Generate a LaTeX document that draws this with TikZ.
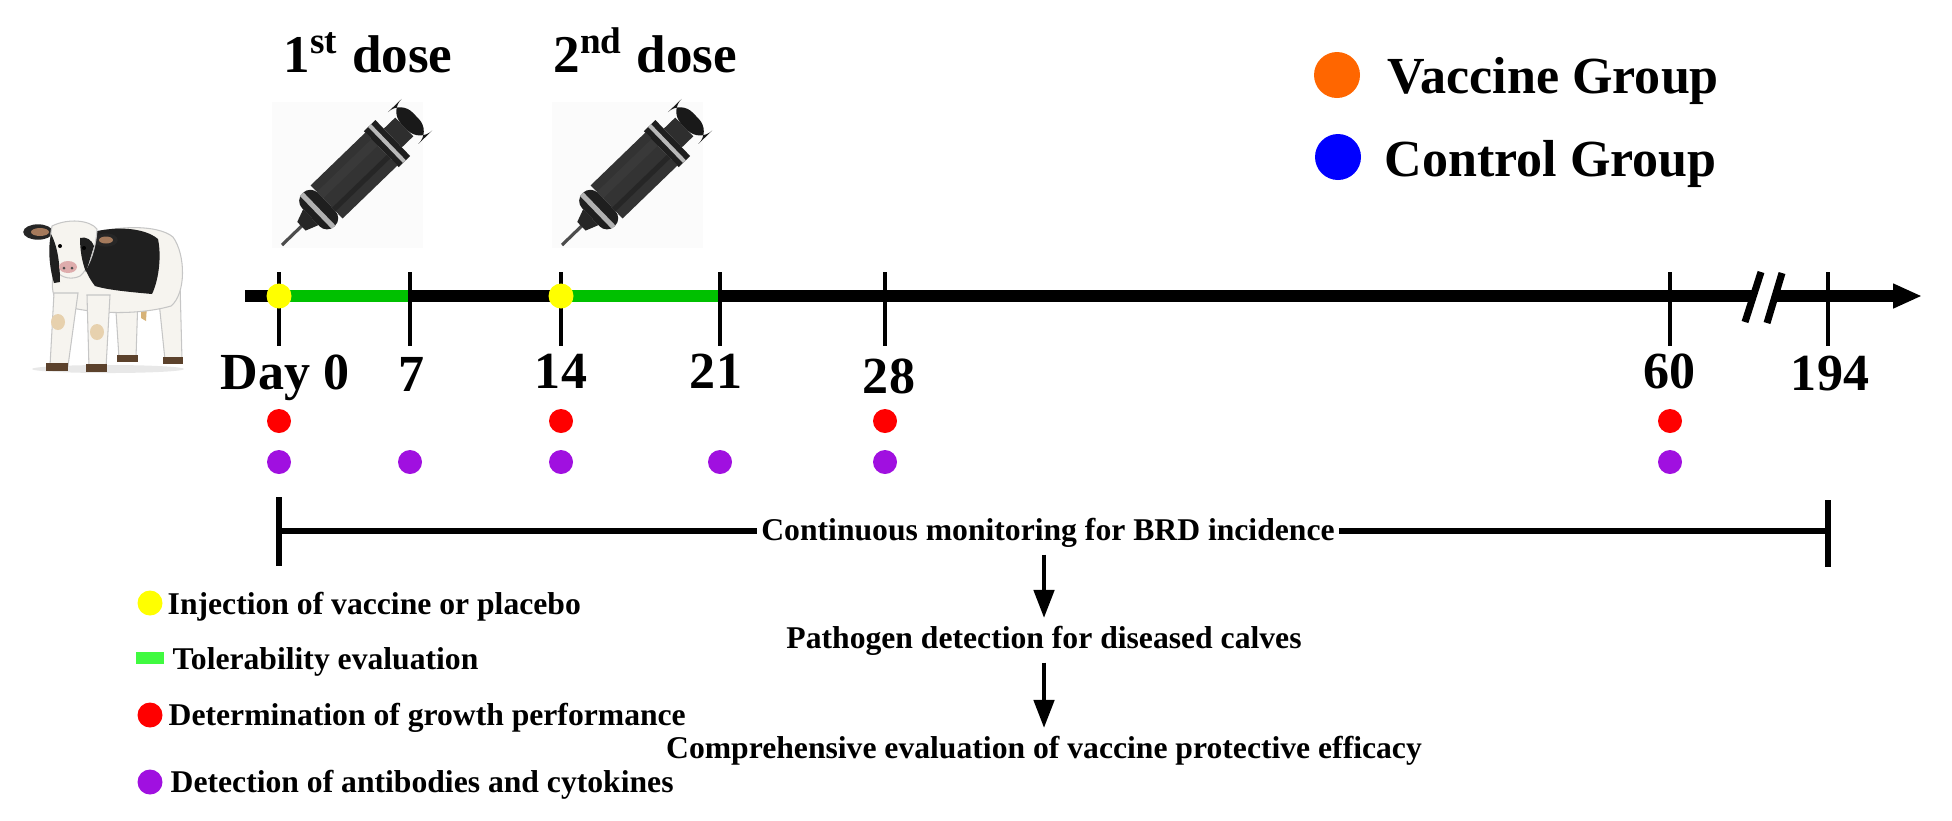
\documentclass[tikz,border=0pt]{standalone}
\usepackage{fontspec}
\setmainfont{Liberation Serif}
\usepackage{xcolor}
\usetikzlibrary{arrows.meta}

\definecolor{injyellow}{RGB}{255,255,0}
\definecolor{tolgreen}{RGB}{0,192,0}
\definecolor{legreen}{RGB}{64,250,64}
\definecolor{growred}{RGB}{255,0,0}
\definecolor{abpurple}{RGB}{160,16,224}
\definecolor{vacorange}{RGB}{255,102,0}
\definecolor{ctrlblue}{RGB}{0,0,255}
\definecolor{cowwhite}{RGB}{246,244,239}
\definecolor{cowtan}{RGB}{214,178,120}
\definecolor{cowear}{RGB}{165,122,92}
\definecolor{cownose}{RGB}{222,172,172}
\definecolor{hoof}{RGB}{92,66,44}

\begin{document}
\begin{tikzpicture}[x=0.01cm, y=-0.01cm,
    axisline/.style={line width=3.4pt},
    daytick/.style={line width=1.3pt},
    daylbl/.style={anchor=base, inner sep=0pt, font=\fontsize{14.8}{17}\selectfont\bfseries},
    dosetxt/.style={anchor=base west, inner sep=0pt, font=\fontsize{15.1}{18}\selectfont\bfseries},
    grptxt/.style={anchor=base west, inner sep=0pt, font=\fontsize{14.8}{17}\selectfont\bfseries},
    legtxt/.style={anchor=base west, inner sep=0pt, font=\fontsize{9}{11}\selectfont\bfseries},
    flowtxt/.style={anchor=base, inner ysep=2pt, inner xsep=1pt, font=\fontsize{9}{11}\selectfont\bfseries},
    monline/.style={line width=1.5pt},
    flowarr/.style={line width=1.3pt, -{Triangle[length=2.8mm, width=2mm]}},
    cowpart/.style={fill=cowwhite, draw=gray!45, line width=0.3pt}]

  \useasboundingbox (0,0) rectangle (1952,820);

  % calf
  \fill[gray!18] (108,369) ellipse (76 and 4);
  \filldraw[cowpart] (157,282) -- (180,282) -- (182,360) -- (165,360) -- cycle;
  \filldraw[cowpart] (115,296) -- (138,296) -- (136,358) -- (119,358) -- cycle;
  \fill[hoof] (163,357) rectangle (183,364);
  \fill[hoof] (117,355) rectangle (138,362);
  \fill[cowtan] (141,290) -- (148,290) -- (146,321) -- (141,318) -- cycle;
  \filldraw[cowpart] (74,240) .. controls (110,224) and (158,224) .. (173,237)
    .. controls (186,255) and (186,294) .. (171,306)
    .. controls (140,315) and (90,315) .. (58,304)
    .. controls (48,290) and (50,262) .. (74,240) -- cycle;
  \fill[black!88] (82,235) .. controls (112,225) and (144,227) .. (158,239)
    .. controls (162,258) and (158,282) .. (152,294)
    .. controls (130,292) and (108,290) .. (95,286)
    .. controls (84,272) and (78,252) .. (82,235) -- cycle;
  \filldraw[cowpart] (54,293) -- (78,293) -- (68,366) -- (50,366) -- cycle;
  \filldraw[cowpart] (87,295) -- (110,295) -- (106,368) -- (89,368) -- cycle;
  \fill[cowtan!60] (58,322) ellipse (7 and 8);
  \fill[cowtan!60] (97,332) ellipse (7 and 8);
  \fill[hoof] (46,363) rectangle (68,371);
  \fill[hoof] (86,364) rectangle (107,372);
  \filldraw[black!85] (38,232) ellipse (14 and 7);
  \fill[cowear] (40,232) ellipse (9 and 4);
  \filldraw[black!85] (106,240) ellipse (11 and 6);
  \fill[cowear] (106,240) ellipse (7 and 3.5);
  \filldraw[cowpart] (52,226) .. controls (68,218) and (90,220) .. (97,229)
    .. controls (96,250) and (88,270) .. (80,276)
    .. controls (72,280) and (62,278) .. (57,272)
    .. controls (51,258) and (49,240) .. (52,226) -- cycle;
  \fill[black!88] (51,234) .. controls (57,245) and (60,262) .. (60,282)
    -- (54,283) .. controls (49,266) and (48,248) .. (51,234) -- cycle;
  \fill[black!88] (80,238) .. controls (86,236) and (92,240) .. (94,246)
    -- (86,272) .. controls (82,262) and (80,250) .. (80,238) -- cycle;
  \fill[cownose] (68,267) ellipse (9 and 6);
  \fill[black!70] (64,268) circle (1.5);
  \fill[black!70] (72,268) circle (1.5);
  \fill[black] (60,246) circle (2);
  \fill[black] (84,248) circle (2);

  % syringes
  \foreach \sx in {0,280} {
    \fill[black!1.5] (272+\sx,102) rectangle (423+\sx,248);
    \begin{scope}[shift={(282+\sx,245)}, rotate=44]
      \draw[line width=0.9pt, gray!60!black] (0,0) -- (30,0);
      \fill[black!85] (27,-6) -- (40,-11) -- (40,11) -- (27,6) -- cycle;
      \fill[black!88, rounded corners=3] (40,-23) rectangle (62,23);
      \fill[gray!60] (47,-23) rectangle (52,23);
      \fill[black!80] (62,-23) rectangle (138,23);
      \fill[gray!45!black] (62,-14) rectangle (138,-5);
      \fill[gray!30!black] (62,8) rectangle (138,13);
      \fill[black!88] (138,-25) rectangle (154,25);
      \fill[gray!55] (144,-25) rectangle (148,25);
      \fill[black!82] (154,-13) rectangle (170,13);
      \fill[black!90, rounded corners=5] (170,-22) rectangle (186,22);
    \end{scope}
  }
  \node[dosetxt] (dose1) at (283,72) {1\textsuperscript{st} dose};
  \node[dosetxt] (dose2) at (553,72) {2\textsuperscript{nd} dose};

  % timeline
  \coordinate (tstart) at (245,296);
  \coordinate (tend) at (1922,296);
  \draw[axisline, -{Triangle[length=2.9mm, width=2.3mm]}] (tstart) -- (tend);
  \fill[tolgreen] (279,290) rectangle (410,302);
  \fill[tolgreen] (561,290) rectangle (720,302);
  \fill[white] (1755.6,289) -- (1777.2,289) -- (1772.7,304) -- (1750.8,304) -- cycle;
  \draw[line width=2pt] (1761,272) -- (1745,322);
  \draw[line width=2pt] (1782,273) -- (1767,323);
  \foreach \x in {279,410,561,720,885,1670,1828} {
    \draw[daytick] (\x,272) -- (\x,346);
  }
  \foreach \x in {279,561} {
    \fill[injyellow] (\x,296) circle (12.5);
  }
  \foreach \x/\y/\t/\n in {285/389/Day 0/d0, 412/391/7/d7, 561/388/14/d14,
      716/388/21/d21, 889/393/28/d28, 1669/388/60/d60, 1830/390/194/d194} {
    \node[daylbl] (\n) at (\x,\y) {\t};
  }
  \foreach \x in {279,561,885,1670} {
    \fill[growred] (\x,421) circle (12);
  }
  \foreach \x in {279,410,561,720,885,1670} {
    \fill[abpurple] (\x,462) circle (12);
  }

  % monitoring and follow-up
  \coordinate (mstart) at (279,531);
  \coordinate (mend) at (1828,531);
  \draw[monline] (279,497) -- (279,566);
  \draw[monline] (1828,500) -- (1828,567);
  \node[flowtxt] (mon) at (1048,540) {Continuous monitoring for BRD incidence};
  \draw[monline] (mstart) -- (mon.west |- mstart);
  \draw[monline] (mon.east |- mend) -- (mend);
  \node[flowtxt] (path) at (1044,648) {Pathogen detection for diseased calves};
  \node[flowtxt] (comp) at (1044,758) {Comprehensive evaluation of vaccine protective efficacy};
  \draw[flowarr] (mon.south -| path.north) -- (path.north);
  \draw[flowarr] (path.south) -- (comp.north);

  % legends
  \fill[injyellow] (150,603) circle (12.5);
  \node[legtxt] (leg1) at (167,614) {Injection of vaccine or placebo};
  \fill[legreen] (136,652) rectangle (164,664);
  \node[legtxt] (leg2) at (172,669) {Tolerability evaluation};
  \fill[growred] (150,715) circle (12.5);
  \node[legtxt] (leg3) at (168,725) {Determination of growth performance};
  \fill[abpurple] (150,782) circle (12.5);
  \node[legtxt] (leg4) at (170,792) {Detection of antibodies and cytokines};
  \fill[vacorange] (1337,75) circle (23);
  \node[grptxt] (gvac) at (1387,93) {Vaccine Group};
  \fill[ctrlblue] (1338,157) circle (23);
  \node[grptxt] (gctl) at (1384,176) {Control Group};
\end{tikzpicture}
\end{document}
